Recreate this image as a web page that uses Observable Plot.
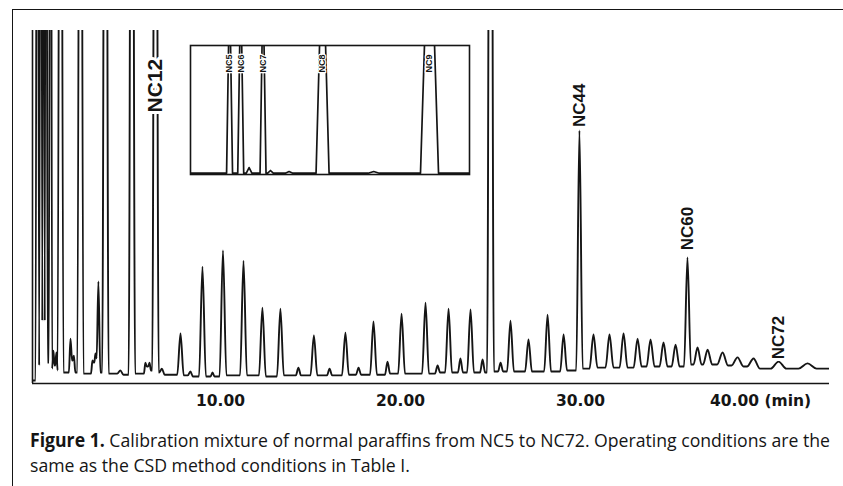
<!DOCTYPE html>
<html><head><meta charset="utf-8">
<script src="https://cdn.jsdelivr.net/npm/d3@7"></script>
<script src="https://cdn.jsdelivr.net/npm/@observablehq/plot@0.6"></script>
<style>
html,body{margin:0;padding:0;background:#fff;}
#wrap{position:relative;width:843px;height:486px;overflow:hidden;background:#fff;}
#frame{position:absolute;left:12px;top:9px;width:900px;height:600px;border-left:1.6px solid #151515;border-top:1.6px solid #151515;}
#main{position:absolute;left:0;top:0;}
#inset{position:absolute;left:189px;top:44px;background:#fff;}
.cap{position:absolute;left:30px;white-space:nowrap;font-family:"Open Sans","Noto Sans",sans-serif;font-size:19px;line-height:19px;color:#151515;transform-origin:0 0;}
.cap b{font-weight:bold;}
</style></head><body>
<div id="wrap"><div id="frame"></div><div id="main"></div><div id="inset"></div>
<div class="cap" id="cap1" style="top:431px"></div><div class="cap" id="cap2" style="top:456px"></div></div>
<script>
// ---------- data ----------
const xTicks = [10, 20, 30, 40];
const xTickLabels = ["10.00", "20.00", "30.00", "40.00 (min)"];

// main chromatogram: retention time (min), response (% of full scale), half-width (min), level after peak
const traceStart = [-0.44, 0.85];
const traceEnd = [43.78, 4.2];
const peakTime = [-0.17, 0.03, 0.17, 0.31, 0.56, 0.72, 0.89, 1.11, 1.67, 1.86, 2.22, 2.89, 3.06, 3.22, 3.61, 4.44, 5.08, 5.83, 6.06, 6.39, 6.75,
  7.78, 8.33, 9.00, 9.56, 10.14, 11.28, 12.33, 13.33, 14.33, 15.19, 16.06, 16.94, 17.67, 18.50, 19.28, 20.06, 21.39, 22.06, 22.67, 23.33, 23.89, 24.56,
  25.00, 25.56, 26.11, 27.11, 28.17, 29.06, 29.94, 30.72, 31.61, 32.39, 33.17, 33.89, 34.61, 35.28, 35.94, 36.50, 37.06, 37.89, 38.72, 39.61, 41.00, 42.61];
const peakHeight = [300, 300, 300, 300, 300, 9.3, 8.8, 300, 12.7, 7.9, 300, 6.5, 8.5, 28.9, 300, 3.7, 300, 5.9, 5.9, 300, 4.2,
  14.2, 3.4, 33.1, 3.1, 37.7, 34.8, 21.5, 21.2, 4.5, 13.6, 4.2, 14.4, 4.5, 17.6, 6.2, 19.8, 22.9, 5.1, 21.2, 7.1, 21.0, 6.8,
  300, 5.9, 17.8, 12.5, 19.5, 13.9, 71.7, 13.9, 13.9, 14.2, 12.7, 12.5, 11.6, 11.0, 35.7, 10.2, 9.6, 8.8, 7.4, 7.1, 6.2, 5.7];
const peakHalfWidth = [0.10, 0.10, 0.09, 0.09, 0.09, 0.07, 0.07, 0.17, 0.09, 0.08, 0.17, 0.08, 0.07, 0.11, 0.18, 0.17, 0.18, 0.08, 0.08, 0.18, 0.15,
  0.18, 0.14, 0.19, 0.11, 0.19, 0.19, 0.19, 0.19, 0.14, 0.19, 0.14, 0.19, 0.14, 0.19, 0.14, 0.19, 0.19, 0.14, 0.19, 0.14, 0.19, 0.14,
  0.19, 0.14, 0.19, 0.19, 0.19, 0.19, 0.18, 0.22, 0.22, 0.22, 0.22, 0.22, 0.22, 0.22, 0.19, 0.22, 0.25, 0.30, 0.33, 0.36, 0.44, 0.50];
const valleyAfter = [5.1, 17.8, 17.8, 5.9, 4.2, 5.1, 3.7, 3.1, 6.5, 3.1, 2.8, 5.9, 7.1, 3.1, 2.8, 2.5, 2.8, 4.8, 3.7, 3.1, 2.5,
  2.3, 2.0, 2.0, 2.0, 2.3, 2.3, 2.0, 2.3, 2.3, 2.3, 2.3, 2.5, 2.5, 2.5, 2.8, 2.8, 2.8, 3.1, 3.1, 3.1, 3.1, 3.1,
  3.4, 3.4, 3.4, 3.4, 3.4, 3.7, 4.2, 4.5, 4.5, 4.5, 4.8, 4.8, 4.8, 4.8, 5.4, 5.4, 5.4, 5.1, 4.8, 4.2, 4.2, 4.2];

const peakLabels = ["NC12", "NC44", "NC60", "NC72"];
const peakLabelIndex = [19, 49, 57, 63];

// inset (early part, expanded time axis)
const insetStart = [0, 1.0];
const insetEnd = [3, 1.0];
const insetTime = [0.42, 0.54, 0.63, 0.78, 0.86, 1.06, 1.42, 1.97, 2.57];
const insetHeight = [150, 150, 5.4, 150, 3.1, 2.3, 185, 2.3, 225];
const insetHalfWidth = [0.032, 0.032, 0.03, 0.032, 0.03, 0.04, 0.07, 0.06, 0.097];
const insetValleyAfter = [1.0, 1.0, 1.0, 1.0, 1.0, 1.0, 1.0, 1.0, 1.0];
const insetLabels = ["NC5", "NC6", "NC7", "NC8", "NC9"];
const insetLabelIndex = [0, 1, 3, 6, 8];

const captionLead = "Figure 1.";
const captionLines = ["Calibration mixture of normal paraffins from NC5 to NC72. Operating conditions are the",
  "same as the CSD method conditions in Table I."];

// ---------- build trace vertices from peak table ----------
function buildTrace(start, end, T, H, W, V) {
  const out = [{t: start[0], v: start[1]}];
  const n = T.length;
  for (let i = 0; i < n; i++) {
    const t = T[i], w = W[i];
    const leftLevel = i === 0 ? start[1] : V[i - 1];
    if (i === 0 || t - w > T[i - 1] + W[i - 1]) out.push({t: t - w, v: leftLevel});
    out.push({t, v: H[i]});
    const nt = i < n - 1 ? T[i + 1] : end[0];
    const nw = i < n - 1 ? W[i + 1] : 0;
    if (t + w < nt - nw) out.push({t: t + w, v: V[i]});
    else out.push({t: t + (nt - t) * w / (w + nw), v: V[i]});
  }
  out.push({t: end[0], v: end[1]});
  return out;
}
const trace = buildTrace(traceStart, traceEnd, peakTime, peakHeight, peakHalfWidth, valleyAfter);
const insetTrace = buildTrace(insetStart, insetEnd, insetTime, insetHeight, insetHalfWidth, insetValleyAfter);

// label placement (layout)
const labelY = [84.4, 78.8, 43.9, 13.0];
const labelSize = [21, 17, 17, 17];
const labelRows = peakLabels.map((name, k) => ({t: peakTime[peakLabelIndex[k]], v: labelY[k], name, size: labelSize[k]}));
const insetLabelRows = insetLabels.map((name, k) => ({t: insetTime[insetLabelIndex[k]], v: 86, name}));

const ink = "#151515";
const xDomain = [traceStart[0], 43.83];

const main = Plot.plot({
  width: 843, height: 420,
  marginLeft: 32, marginRight: 14, marginTop: 30, marginBottom: 37,
  x: {domain: xDomain, axis: null},
  y: {domain: [0, 100], axis: null},
  style: {background: "transparent", overflow: "visible"},
  marks: [
    Plot.line(trace, {x: "t", y: "v", curve: "monotone-x", stroke: ink, strokeWidth: 1.9, clip: true}),
    Plot.ruleY([0], {stroke: ink, strokeWidth: 1.6}),
    Plot.ruleX([xDomain[0]], {stroke: ink, strokeWidth: 1.6}),
    Plot.axisX({ticks: xTicks, tickFormat: d => xTickLabels[xTicks.indexOf(d)], tickSize: 0, tickPadding: 11, label: null,
      fontSize: 15.5, fontWeight: "bold", fontFamily: "DejaVu Sans", fill: ink, anchor: "bottom"}),
    Plot.text(labelRows, {x: "t", y: "v", text: "name", rotate: -90, fontSize: d => d.size, fontWeight: "bold",
      fontFamily: "Liberation Sans, Arial, sans-serif", fill: ink, stroke: "white", strokeWidth: 6, textAnchor: "middle", lineAnchor: "middle"})
  ]
});
document.getElementById("main").appendChild(main);

const inset = Plot.plot({
  width: 281, height: 132,
  marginLeft: 1, marginRight: 1, marginTop: 1, marginBottom: 2,
  x: {domain: [insetStart[0], insetEnd[0]], axis: null},
  y: {domain: [0, 100], axis: null},
  style: {background: "#fff", overflow: "visible"},
  marks: [
    Plot.line(insetTrace, {x: "t", y: "v", stroke: ink, strokeWidth: 1.7, clip: true}),
    Plot.text(insetLabelRows, {x: "t", y: "v", text: "name", rotate: -90, fontSize: 9, fontWeight: "bold",
      fontFamily: "Liberation Sans, Arial, sans-serif", fill: ink, stroke: "white", strokeWidth: 2.5, textAnchor: "middle", lineAnchor: "middle"}),
    Plot.frame({stroke: ink, strokeWidth: 1.6})
  ]
});
document.getElementById("inset").appendChild(inset);

// caption
const cap1 = document.getElementById("cap1");
const cap2 = document.getElementById("cap2");
cap1.innerHTML = `<b>${captionLead}</b> ${captionLines[0]}`;
cap2.textContent = captionLines[1];
const w1 = cap1.getBoundingClientRect().width;
const s = 800 / w1;
cap1.style.transform = `scaleX(${s})`;
cap2.style.transform = `scaleX(${s})`;
</script>
</body></html>
